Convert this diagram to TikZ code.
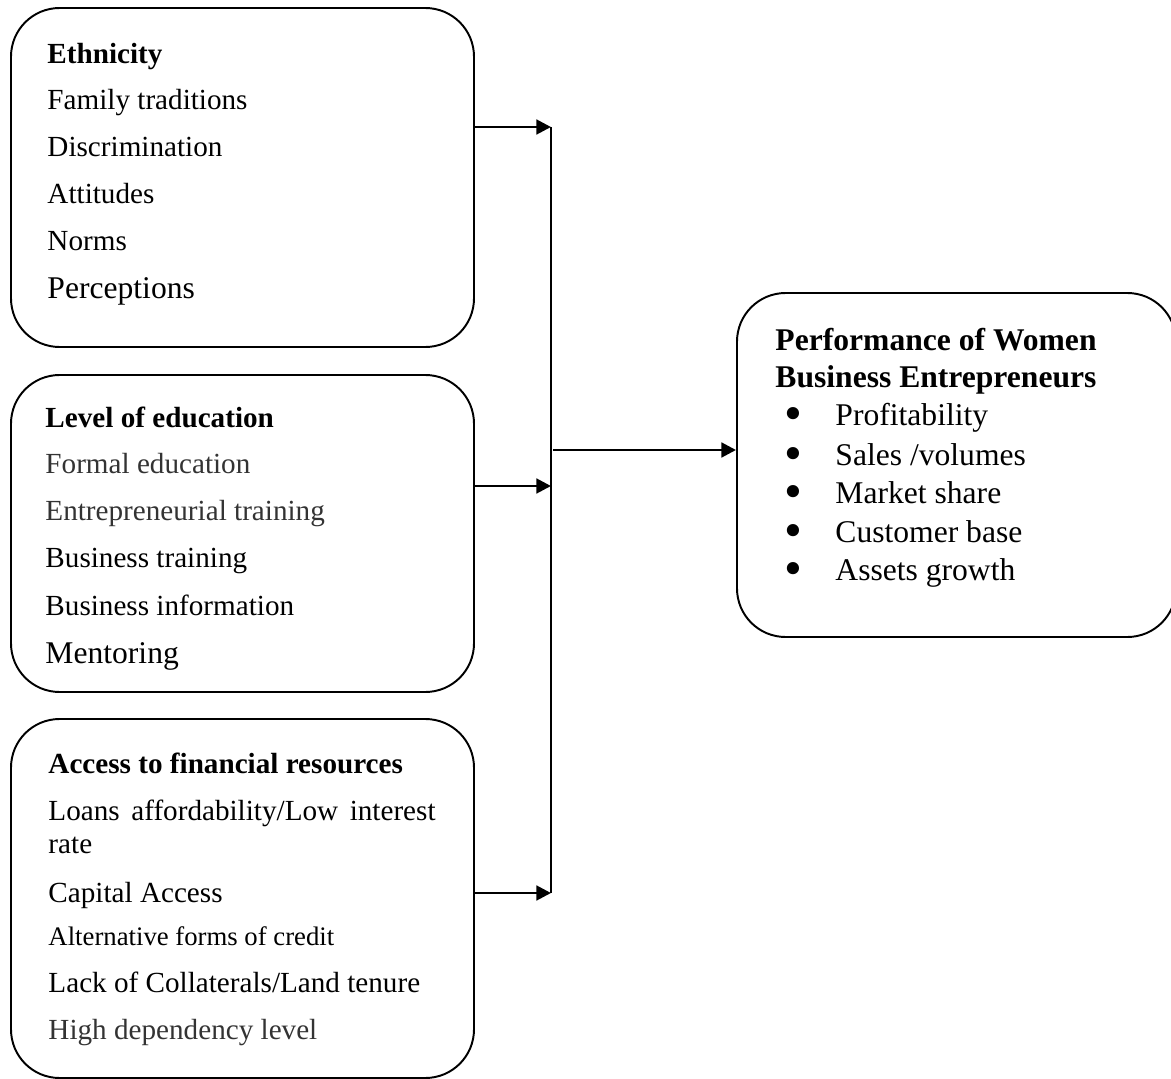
\documentclass[tikz,border=0pt]{standalone}
\usepackage{fontspec}
\setmainfont{Liberation Serif}
\usetikzlibrary{arrows.meta,positioning,fit}
\tikzset{
  frame/.style={draw,rounded corners=20pt,line width=0.8pt,inner sep=0pt},
  item/.style={anchor=base west,inner sep=0pt,font=\fontsize{12}{14}\selectfont},
  head/.style={item,font=\fontsize{12}{14}\selectfont\bfseries},
  bighead/.style={item,font=\fontsize{13}{15}\selectfont\bfseries},
  big/.style={item,font=\fontsize{13}{15}\selectfont},
  small/.style={item,font=\fontsize{11}{13}\selectfont},
  dim/.style={text=black!80},
  dot/.style={item,font=\fontsize{21}{21}\selectfont,text height=7pt,text depth=0pt},
  arr/.style={-{Triangle[length=6pt,width=6pt]},line width=1.2pt},
  bus/.style={line width=0.8pt},
}
\begin{document}
\begin{tikzpicture}[x=0.4115pt,y=-0.4115pt]
  \useasboundingbox (0,0) rectangle (1171,1079);
  % the three factor boxes and the outcome box
  \node[frame,fit={(11,8) (474,347)}] (eth) {};
  \node[frame,fit={(11,375) (474,692)}] (edu) {};
  \node[frame,fit={(11,719) (474,1078)}] (fin) {};
  \node[frame,fit={(737,293) (1176,637)}] (perf) {};
  % ethnicity
  \node[head] (eth0) at (47,63) {Ethnicity};
  \node[item] (eth1) at (47,109) {Family traditions};
  \node[item] (eth2) at (47,156) {Discrimination};
  \node[item] (eth3) at (47,203) {Attitudes};
  \node[item] (eth4) at (47,250) {Norms};
  \node[big] (eth5) at (47,298) {Perceptions};
  % education
  \node[head] (edu0) at (45,427) {Level of education};
  \node[item,dim] (edu1) at (45,473) {Formal education};
  \node[item,dim] (edu2) at (45,520) {Entrepreneurial training};
  \node[item] (edu3) at (45,567) {Business training};
  \node[item] (edu4) at (45,615) {Business information};
  \node[big] (edu5) at (45,663) {Mentoring};
  % finance
  \node[head] (fin0) at (48,773) {Access to financial resources};
  \node[item] (fin1) at (48,820) {\makebox[159.3pt][s]{Loans affordability/Low interest}};
  \node[item] (fin2) at (48,853) {rate};
  \node[item] (fin3) at (48,902) {Capital Access};
  \node[small] (fin4) at (48,945) {Alternative forms of credit};
  \node[item] (fin5) at (48,992) {Lack of Collaterals/Land tenure};
  \node[item,dim] (fin6) at (48,1039) {High dependency level};
  % performance
  \node[bighead] (perf0) at (775,350) {Performance of Women};
  \node[bighead] (perf1) at (775,387) {Business Entrepreneurs};
  \node[dot] (b1) at (784,430) {•};
  \node[big] (p1) at (835,425) {Profitability};
  \node[dot] (b2) at (784,470) {•};
  \node[big] (p2) at (835,465) {Sales /volumes};
  \node[dot] (b3) at (784,508) {•};
  \node[big] (p3) at (835,503) {Market share};
  \node[dot] (b4) at (784,547) {•};
  \node[big] (p4) at (835,542) {Customer base};
  \node[dot] (b5) at (784,585) {•};
  \node[big] (p5) at (835,580) {Assets growth};
  % connectors
  \coordinate (j1) at (551,127);
  \coordinate (j2) at (551,486);
  \coordinate (j3) at (551,893);
  \coordinate (jm) at (553,450);
  \draw[bus] (j1) -- (j3);
  \draw[arr] (j1 -| eth.east) -- (j1);
  \draw[arr] (j2 -| edu.east) -- (j2);
  \draw[arr] (j3 -| fin.east) -- (j3);
  \draw[arr] (jm) -- (jm -| perf.west);
\end{tikzpicture}
\end{document}
